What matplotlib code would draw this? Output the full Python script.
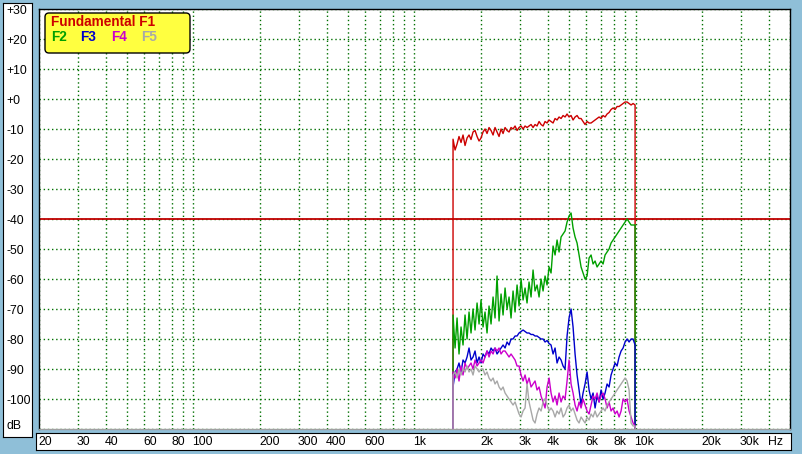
import numpy as np
import matplotlib
matplotlib.use("Agg")
import matplotlib.pyplot as plt
from matplotlib.patches import FancyBboxPatch
from matplotlib.transforms import blended_transform_factory
from matplotlib.ticker import LogLocator, MultipleLocator, NullLocator

# frequency points (Hz) of the measured sweep
freq = [1494, 1526, 1558, 1590, 1624, 1658, 1693, 1729, 1765, 1802,
        1840, 1879, 1919, 1959, 2000, 2042, 2085, 2129, 2174, 2220,
        2267, 2314, 2363, 2413, 2464, 2516, 2569, 2623, 2678, 2734,
        2792, 2851, 2911, 2972, 3035, 3099, 3164, 3230, 3298, 3368,
        3439, 3511, 3585, 3661, 3738, 3817, 3897, 3979, 4063, 4148,
        4236, 4325, 4416, 4509, 4604, 4701, 4800, 4901, 5004, 5110,
        5217, 5327, 5439, 5554, 5671, 5790, 5912, 6037, 6164, 6294,
        6426, 6562, 6700, 6841, 6985, 7132, 7282, 7436, 7592, 7752,
        7915, 8082, 8252, 8426, 8604, 8785, 8970, 9159, 9352, 9548,
        9750, 9955]

# levels in dB
f1 = [-13.4, -17, -15, -12.5, -14.5, -12, -15.5, -13, -12, -13.5,
      -11, -10.5, -12.5, -14, -13, -11, -10, -11.5, -9.5, -10.5,
      -12, -9.5, -11, -12.5, -10, -11.5, -9.5, -10.5, -11, -9.5,
      -10, -9, -10.5, -9.5, -9, -10, -9, -9.5, -9, -8.5,
      -9.5, -8.5, -9, -7.5, -8.5, -9, -7.5, -8, -7, -7.5,
      -8, -6.5, -7, -6, -6.5, -5.5, -6, -5, -6, -5.5,
      -7, -6, -5.5, -6.5, -6.5, -7.5, -8.5, -7.5, -8, -8,
      -7.5, -7, -6.5, -6, -6.5, -5.5, -6, -5, -4.5, -3.5,
      -3, -3.5, -2.5, -2.5, -2, -1.5, -1, -1, -1.5, -2,
      -1.5, -2]
f2 = [-72, -83, -73, -85, -76, -82, -72, -80, -71, -78,
      -70, -77, -68, -75, -67, -76, -71, -78, -69, -75,
      -66, -73, -59, -74, -65, -72, -63, -70, -66, -73,
      -64, -71, -62, -69, -60, -67, -63, -68, -61, -66,
      -57, -64, -62, -66, -60, -64, -59, -62, -56, -58,
      -49, -52, -47, -51, -46, -45, -44, -41, -39, -38,
      -43, -46, -48, -52, -56, -58, -60, -59, -53, -52,
      -55, -54, -56, -55, -54, -55, -52, -51, -50, -48,
      -47, -46, -45, -44, -43, -42, -41, -40, -41, -42,
      -42, -42]
f3 = [-96, -91, -90, -88, -91, -87, -88, -86, -83, -87,
      -86, -84, -88, -86, -88, -85, -86, -84, -85, -83,
      -84, -83, -85, -84, -83, -82, -83, -81, -82, -80,
      -80, -79, -79, -78, -77.5, -77, -77.5, -78, -78, -78.5,
      -78.5, -79, -79, -79.5, -80, -80, -81, -80.5, -81.5, -82,
      -85, -83, -88, -86, -87, -89, -90, -79, -73, -70,
      -76, -85, -92, -97, -102, -98, -95, -91, -97, -100,
      -98, -103, -99, -101, -97, -100, -98, -95, -96, -92,
      -90, -88, -89, -86, -84, -83, -81, -80, -81, -80,
      -80, -82]
f4 = [-91, -93, -90, -94, -89, -92, -88, -90, -89, -88,
      -90, -87, -89, -88, -87, -88, -86, -84, -86, -84,
      -85, -83, -84, -83, -85, -84, -84, -85, -86, -85,
      -86, -87, -89, -89, -92, -94, -92, -95, -93, -96,
      -95, -94, -97, -96, -99, -101, -103, -96, -93, -98,
      -101, -99, -102, -98, -101, -99, -100, -94, -87, -95,
      -98, -102, -104, -101, -103, -100, -102, -104, -105, -102,
      -99, -100, -98, -101, -99, -98, -100, -103, -101, -104,
      -103, -105, -104, -106, -104, -100, -101, -100, -104, -106,
      -108, -109]
f5 = [-92, -91, -93, -90, -92, -90, -91, -89, -91, -90,
      -92, -89, -90, -91, -90, -90, -92, -91, -93, -94,
      -93, -95, -94, -96, -97, -96, -98, -99, -100, -101,
      -102, -101, -103, -105, -106, -104, -103, -95, -101, -104,
      -107, -108, -105, -103, -104, -101, -100, -102, -104, -103,
      -104, -106, -104, -105, -103, -106, -105, -103, -102, -104,
      -103, -105, -107, -108, -106, -107, -108, -106, -107, -105,
      -106, -104, -106, -105, -104, -103, -104, -102, -101, -100,
      -99, -98, -97, -96, -95, -94, -93, -94, -97, -108,
      -109, -109]

series = [("Fundamental F1", f1, "#cc0000"),
          ("F2", f2, "#00a000"),
          ("F3", f3, "#0000cc"),
          ("F4", f4, "#cc00cc"),
          ("F5", f5, "#a8a8a8")]

y_ticks = [30, 20, 10, 0, -10, -20, -30, -40, -50, -60, -70, -80, -90, -100]
y_labels = ["+30", "+20", "+10", "+0", "-10", "-20", "-30", "-40", "-50",
            "-60", "-70", "-80", "-90", "-100"]
x_ticks = [20, 30, 40, 60, 80, 100, 200, 300, 400, 600,
           1000, 2000, 3000, 4000, 6000, 8000, 10000, 20000, 30000]
x_labels = ["20", "30", "40", "60", "80", "100", "200", "300", "400", "600",
            "1k", "2k", "3k", "4k", "6k", "8k", "10k", "20k", "30k"]

W, H = 803, 454
fig = plt.figure(figsize=(W / 100, H / 100), dpi=100)
fig.patch.set_facecolor("#8fbfd8")
plt.rcParams["font.family"] = ["Liberation Sans", "DejaVu Sans"]


def box(x0, y0, x1, y1):
    # pixel box (top-left origin) -> figure fraction rect
    return [x0 / W, 1 - y1 / H, (x1 - x0) / W, (y1 - y0) / H]


ax = fig.add_axes(box(39, 9, 790, 429))
ax.set_xscale("log")
ax.set_xlim(20, 50000)
ax.set_ylim(-110, 30)
ax.xaxis.set_major_locator(LogLocator(base=10, subs=range(1, 10), numticks=60))
ax.xaxis.set_minor_locator(NullLocator())
ax.yaxis.set_major_locator(MultipleLocator(10))
ax.tick_params(length=0, labelbottom=False, labelleft=False)
ax.grid(True, color="#007000", linestyle=(0, (1, 2)), linewidth=1)
for s in ax.spines.values():
    s.set_color("black")
    s.set_linewidth(1)
ax.spines["bottom"].set_color("#a0a0a0")

ax.axhline(-40, color="#c00000", lw=1.3, zorder=2)

bottom = ax.get_ylim()[0]
for name, vals, col in series:
    xs = [freq[0]] + freq + [freq[-1]]
    ys = [bottom] + vals + [bottom]
    ax.plot(xs, ys, color=col, lw=1.0, zorder=3)

# left dB label box
axl = fig.add_axes(box(3, 3, 32, 437))
axl.set_xticks([])
axl.set_yticks([])
trl = blended_transform_factory(axl.transAxes, ax.transData)
for v, lab in zip(y_ticks, y_labels):
    axl.text(0.12, v - 0.7, lab, transform=trl, ha="left", va="center",
             fontsize=8.8, color="black")
axl.text(0.12, 0.012, "dB", transform=axl.transAxes, ha="left", va="bottom",
         fontsize=8.8)

# bottom frequency label box
axb = fig.add_axes(box(36, 433, 791, 450))
axb.set_xticks([])
axb.set_yticks([])
trb = blended_transform_factory(ax.transData, axb.transAxes)
for v, lab in zip(x_ticks, x_labels):
    axb.text(v * 0.99, 0.45, lab, transform=trb, ha="left", va="center",
             fontsize=8.8)
axb.text(0.99, 0.45, "Hz", transform=axb.transAxes, ha="right", va="center",
         fontsize=8.8)

# legend
inch = fig.dpi_scale_trans
leg = FancyBboxPatch((45 / 100, (H - 53) / 100), 145 / 100, 40 / 100,
                     boxstyle="round,pad=0,rounding_size=0.04",
                     facecolor="#ffff40", edgecolor="black", lw=1,
                     transform=inch, zorder=10)
fig.add_artist(leg)
fig.text(51 / 100, (H - 22) / 100, series[0][0], color=series[0][2],
         transform=inch, fontsize=9.8, fontweight="bold", va="center",
         zorder=11)
for (name, vals, col), xp in zip(series[1:], [51, 80, 111, 141]):
    fig.text(xp / 100, (H - 37) / 100, name, color=col, transform=inch,
             fontsize=9.8, fontweight="bold", va="center", zorder=11)

fig.savefig("out.png", dpi=100, facecolor=fig.get_facecolor())
